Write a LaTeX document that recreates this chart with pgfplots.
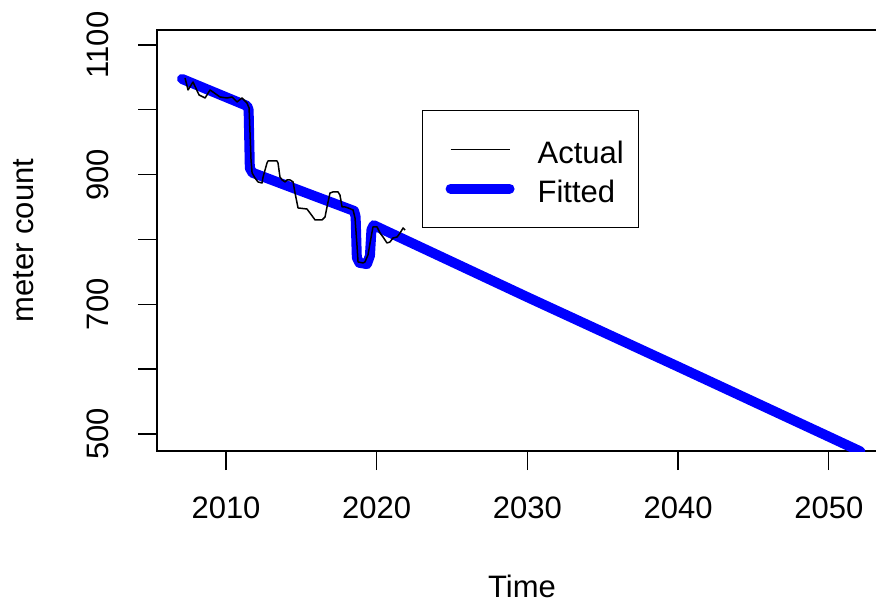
\documentclass[border=0pt]{standalone}
\usepackage{fontspec}
\setmainfont{Liberation Sans}
\usepackage{pgfplots}
\pgfplotsset{compat=1.18}
\newcommand{\bigf}{\fontsize{31}{37}\selectfont}
\begin{document}
\begin{tikzpicture}
\begin{axis}[
  at={(0pt,0pt)}, anchor=south west,
  scale only axis, width=730pt, height=421pt,
  xmin=2005.42, xmax=2053.86, ymin=473.7, ymax=1123.1,
  axis line style={line width=1.3pt},
  xtick={2010,2020,2030,2040,2050},
  xticklabels={2010,2020,2030,2040,2050},
  ytick={500,600,700,800,900,1000,1100},
  yticklabels={500,,700,,900,,1100},
  tick align=outside, xtick pos=bottom, ytick pos=left,
  major tick length=19pt,
  tick style={line width=1.3pt, black},
  xticklabel style={font=\bigf, anchor=north, inner sep=0pt, yshift=-27pt},
  yticklabel style={font=\bigf, xshift=-29pt, rotate=90, anchor=south, inner sep=0pt},
  xlabel={Time},
  xlabel style={font=\bigf, at={(axis description cs:0.5,0)}, anchor=north, inner sep=0pt, yshift=-124pt},
  ylabel={meter count},
  ylabel style={font=\bigf, at={(axis description cs:-0.1685,0.5)}, anchor=base, inner sep=0pt},
  legend style={at={(axis cs:2023.0,999.7)}, anchor=north west, draw=black, line width=1.3pt,
    inner xsep=15pt, inner ysep=20pt, row sep=1pt, column sep=23pt,
    nodes={font=\bigf, inner sep=0pt, text height=33pt, text depth=5pt, anchor=base west}},
  legend image code/.code={\path[draw=none,fill=none] (0pt,0pt) -- (72pt,0pt); \draw[#1] (13pt,14pt) -- (72pt,14pt);},
  reverse legend,
  clip=true,
]
\addplot[blue, line width=10pt, line cap=round, line join=round] coordinates {
(2007.08,1047.6) (2011.40,1006) (2011.50,1000) (2011.58,910) (2011.75,903)
(2018.50,844) (2018.60,835) (2018.68,772) (2018.85,764) (2019.35,762)
(2019.55,775) (2019.65,815) (2019.80,822) (2030,711) (2040,603.8) (2050,495.8) (2052.1,473)
};
\addlegendentry{Fitted}
\addplot[black, line width=1.5pt, line join=round] coordinates {
(2007.28,1049.1) (2007.48,1030.6) (2007.81,1042.9) (2008.21,1022.9) (2008.61,1018.2)
(2008.94,1030.6) (2009.60,1019.8) (2010.07,1018.2) (2010.40,1019.8) (2010.73,1012.1)
(2011.06,1018.2) (2011.39,1010.5) (2011.53,1002.8) (2011.66,922.6) (2011.73,902.6)
(2011.92,894.9) (2012.12,888.7) (2012.39,887.1) (2012.46,896.4) (2012.72,918.0)
(2012.79,921.1) (2013.38,921.1) (2013.45,918.0) (2013.58,896.4) (2013.72,891.8)
(2013.92,888.7) (2014.05,891.8) (2014.25,891.8) (2014.45,888.7) (2014.58,871.7)
(2014.78,848.6) (2015.37,847.0) (2015.57,840.9) (2015.91,830.1) (2016.37,830.1)
(2016.57,834.7) (2016.70,850.1) (2016.90,871.7) (2017.10,873.3) (2017.43,873.3)
(2017.56,868.6) (2017.70,850.1) (2017.90,850.1) (2018.10,848.6) (2018.43,845.5)
(2018.56,833.1) (2018.69,791.5) (2018.76,765.3) (2019.09,763.7) (2019.22,765.3)
(2019.42,776.1) (2019.69,811.6) (2019.75,819.3) (2020.02,819.3) (2020.22,810.0)
(2020.42,803.8) (2020.68,794.6) (2020.88,796.1) (2021.08,802.3) (2021.35,803.8)
(2021.55,810.0) (2021.75,817.7) (2021.88,814.6)
};
\addlegendentry{Actual}
\end{axis}
\pgfresetboundingbox
\useasboundingbox (-157pt,-152pt) rectangle (719pt,451pt);
\end{tikzpicture}
\end{document}
